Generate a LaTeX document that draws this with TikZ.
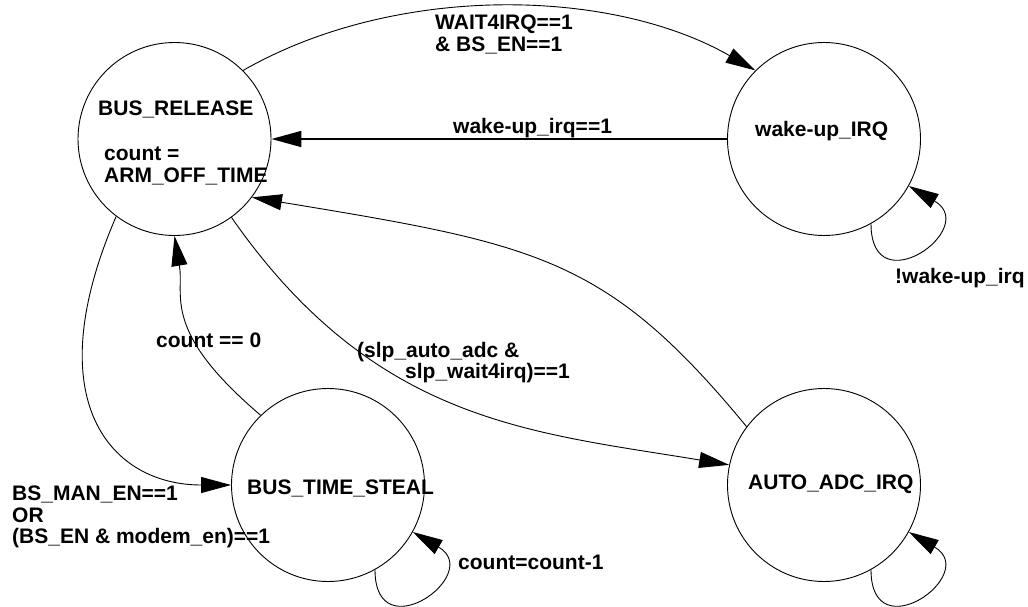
\documentclass[tikz,border=0pt]{standalone}
\usepackage{fontspec}
\setmainfont{Liberation Sans}
\usetikzlibrary{arrows.meta}

\begin{document}
\begin{tikzpicture}[x=1pt, y=1pt,
    etat/.style={draw, circle, minimum size=193pt, inner sep=0pt, line width=0.9pt},
    txt/.style={font=\fontsize{21}{21.5}\selectfont\bfseries, inner sep=0pt, anchor=north west, align=left},
    fleche/.style={-{Triangle[length=30pt, width=16pt]}, line width=0.9pt}]
    \useasboundingbox (0,0) rectangle (1028,-607);
    % les quatre etats
    \node[etat] (rel) at (174.5,-139) {}; \node[etat] (wake) at (824,-139) {};
    \node[etat] (steal) at (328,-485) {}; \node[etat] (adc) at (824,-485) {};
    \node[txt] (trel) at (98,-101) {BUS\_RELEASE};
    \node[txt] (tcnt) at (104,-147) {count =\\ARM\_OFF\_TIME};
    \node[txt] (twake) at (755,-121) {wake-up\_IRQ};
    \node[txt] (tsteal) at (247,-480) {BUS\_TIME\_STEAL};
    \node[txt] (tadc) at (748,-475) {AUTO\_ADC\_IRQ};
    % transitions
    \draw[fleche] (rel.45) .. controls +(152,87) and +(-145,83) .. (wake.135);
    \draw[fleche, line width=1.8pt] (wake.west) -- (rel.east);
    \draw[fleche] (adc.143) .. controls +(-140,170) and +(285,-47) .. (rel.-37);
    \draw[fleche] (rel.-54) .. controls +(143,-205) and +(-200,33) .. (adc.168);
    \draw[fleche] (steal.134) .. controls +(-100,85) and +(10,-60) .. (rel.south);
    \draw[fleche] (rel.233) .. controls +(-80,-185) and +(-120,0) .. (steal.west);
    \draw[fleche] (wake.-61) .. controls +(0,-82) and +(72,-42) .. (wake.-29);
    \draw[fleche] (steal.-61) .. controls +(0,-82) and +(72,-42) .. (steal.-29);
    \draw[fleche] (adc.-61) .. controls +(0,-82) and +(72,-42) .. (adc.-29);
    % conditions
    \node[txt] (c1) at (435,-15) {WAIT4IRQ==1\\\& BS\_EN==1};
    \node[txt] (c2) at (453,-118) {wake-up\_irq==1};
    \node[txt] (c3) at (895,-268) {!wake-up\_irq};
    \node[txt] (c4) at (156,-333) {count == 0};
    \node[txt] (c5) at (357,-342) {(slp\_auto\_adc \&\\\hspace{48pt}slp\_wait4irq)==1};
    \node[txt] (c6) at (12,-486) {BS\_MAN\_EN==1\\OR\\(BS\_EN \& modem\_en)==1};
    \node[txt] (c7) at (458,-555) {count=count-1};
\end{tikzpicture}
\end{document}
